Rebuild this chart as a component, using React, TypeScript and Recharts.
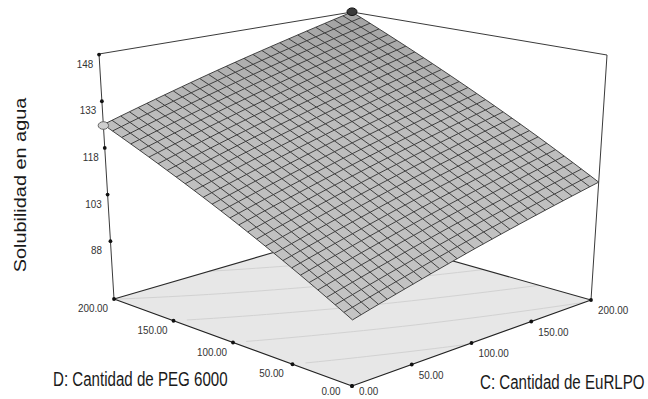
import React from 'react';
import { ScatterChart, Scatter, XAxis, YAxis } from 'recharts';

// ---------------- data ----------------
const cLevels = [0, 50, 100, 150, 200]; // C: Cantidad de EuRLPO
const dLevels = [0, 50, 100, 150, 200]; // D: Cantidad de PEG 6000
// predicted water solubility at each C level, one row per D level
const solubilityD0 = [88.0, 92.8, 97.7, 102.5, 107.3];
const solubilityD50 = [97.4, 102.4, 107.5, 112.5, 117.6];
const solubilityD100 = [106.8, 112.0, 117.3, 122.5, 127.8];
const solubilityD150 = [116.1, 121.6, 127.0, 132.5, 138.0];
const solubilityD200 = [125.5, 131.2, 136.9, 142.5, 148.2];
const zTicks = [88, 103, 118, 133, 148];
const cTicks = [0, 50, 100, 150, 200];
const dTicks = [0, 50, 100, 150, 200];
const zRange = [69.4, 148.2];
const contourLevels = [97.4, 106.8, 116.1, 125.4, 134.8, 144.1];
const designC = [0, 200];
const designD = [200, 200];
const designSolubility = [125.2, 148.3];
const zTitle = 'Solubilidad en agua';
const dTitle = 'D: Cantidad de PEG 6000';
const cTitle = 'C: Cantidad de EuRLPO';

// ---------------- layout ----------------
const W = 648;
const H = 399;
const FONT = '"Liberation Sans", Arial, Helvetica, sans-serif';
const MESH_PER_CELL = 7;

// screen anchors of the 3D box corners (perspective view), floor and ceiling
const BOX = {
  floor: { c0d0: [352, 386], c0d1: [114, 299], c1d0: [591, 300], c1d1: [347, 231] },
  top: { c0d0: [354, 106], c0d1: [99, 54], c1d0: [607, 55], c1d1: [352, 12] },
};

const grid = [solubilityD0, solubilityD50, solubilityD100, solubilityD150, solubilityD200];
const C_MIN = cLevels[0];
const C_MAX = cLevels[cLevels.length - 1];
const D_MIN = dLevels[0];
const D_MAX = dLevels[dLevels.length - 1];

type Pt = { x: number; y: number; [k: string]: any };

function project(c: number, d: number, z: number): Pt {
  const u = (c - C_MIN) / (C_MAX - C_MIN);
  const v = (d - D_MIN) / (D_MAX - D_MIN);
  const w = (z - zRange[0]) / (zRange[1] - zRange[0]);
  const bl = (q: any, k: number) =>
    q.c0d0[k] * (1 - u) * (1 - v) + q.c1d0[k] * u * (1 - v) + q.c0d1[k] * (1 - u) * v + q.c1d1[k] * u * v;
  const fx = bl(BOX.floor, 0);
  const fy = bl(BOX.floor, 1);
  const tx = bl(BOX.top, 0);
  const ty = bl(BOX.top, 1);
  return { x: fx + (tx - fx) * w, y: fy + (ty - fy) * w };
}

function cellIndex(levels: number[], val: number) {
  let i = 0;
  while (i < levels.length - 2 && val > levels[i + 1]) i++;
  return i;
}

// rendering of the fitted surface between the read grid nodes
function surfaceZ(c: number, d: number) {
  const i = cellIndex(cLevels, c);
  const j = cellIndex(dLevels, d);
  const a = (c - cLevels[i]) / (cLevels[i + 1] - cLevels[i]);
  const b = (d - dLevels[j]) / (dLevels[j + 1] - dLevels[j]);
  return (
    grid[j][i] * (1 - a) * (1 - b) +
    grid[j][i + 1] * a * (1 - b) +
    grid[j + 1][i] * (1 - a) * b +
    grid[j + 1][i + 1] * a * b
  );
}

// mesh parameter values
const meshC: number[] = [];
for (let i = 0; i < cLevels.length - 1; i++)
  for (let k = 0; k < MESH_PER_CELL; k++)
    meshC.push(cLevels[i] + ((cLevels[i + 1] - cLevels[i]) * k) / MESH_PER_CELL);
meshC.push(C_MAX);
const meshD: number[] = [];
for (let i = 0; i < dLevels.length - 1; i++)
  for (let k = 0; k < MESH_PER_CELL; k++)
    meshD.push(dLevels[i] + ((dLevels[i + 1] - dLevels[i]) * k) / MESH_PER_CELL);
meshD.push(D_MAX);

const sp = (c: number, d: number) => project(c, d, surfaceZ(c, d));

// surface lines
const linesAlongC: Pt[] = [];
meshD.forEach((d) => meshC.forEach((c) => linesAlongC.push(sp(c, d))));
const linesAlongD: Pt[] = [];
meshC.forEach((c) => meshD.forEach((d) => linesAlongD.push(sp(c, d))));

// surface outline
const surfaceOutline: Pt[] = [
  ...meshC.map((c) => sp(c, D_MIN)),
  ...meshD.map((d) => sp(C_MAX, d)),
  ...meshC.slice().reverse().map((c) => sp(c, D_MAX)),
  ...meshD.slice().reverse().map((d) => sp(C_MIN, d)),
];

// floor
const zLo = zRange[0];
const zHi = zRange[1];
const floorPts: Pt[] = [
  project(C_MIN, D_MIN, zLo),
  project(C_MAX, D_MIN, zLo),
  project(C_MAX, D_MAX, zLo),
  project(C_MIN, D_MAX, zLo),
];
const floorBackEdges: Pt[] = [
  project(C_MIN, D_MAX, zLo), project(C_MAX, D_MAX, zLo),
  project(C_MAX, D_MIN, zLo), project(C_MAX, D_MAX, zLo),
];
const floorFrontEdges: Pt[] = [
  project(C_MIN, D_MIN, zLo), project(C_MIN, D_MAX, zLo),
  project(C_MIN, D_MIN, zLo), project(C_MAX, D_MIN, zLo),
];
const boxEdges: Pt[] = [
  project(C_MIN, D_MAX, zLo), project(C_MIN, D_MAX, zHi),
  project(C_MAX, D_MIN, zLo), project(C_MAX, D_MIN, zHi),
  project(C_MIN, D_MAX, zHi), project(C_MAX, D_MAX, zHi),
  project(C_MAX, D_MAX, zHi), project(C_MAX, D_MIN, zHi),
];

// contour segments on the floor (marching squares over the mesh)
const contourSegs: Pt[] = [];
contourLevels.forEach((lvl) => {
  for (let j = 0; j < meshD.length - 1; j++) {
    for (let i = 0; i < meshC.length - 1; i++) {
      const corners = [
        [meshC[i], meshD[j]],
        [meshC[i + 1], meshD[j]],
        [meshC[i + 1], meshD[j + 1]],
        [meshC[i], meshD[j + 1]],
      ];
      const vals = corners.map(([c, d]) => surfaceZ(c, d));
      const hits: number[][] = [];
      for (let e = 0; e < 4; e++) {
        const a = vals[e];
        const b = vals[(e + 1) % 4];
        if ((a - lvl) * (b - lvl) < 0) {
          const t = (lvl - a) / (b - a);
          const p0 = corners[e];
          const p1 = corners[(e + 1) % 4];
          hits.push([p0[0] + (p1[0] - p0[0]) * t, p0[1] + (p1[1] - p0[1]) * t]);
        }
      }
      if (hits.length >= 2) {
        contourSegs.push(project(hits[0][0], hits[0][1], zLo));
        contourSegs.push(project(hits[1][0], hits[1][1], zLo));
      }
    }
  }
});

// ticks
const zTickPts = zTicks.map((t) => ({ ...project(C_MIN, D_MAX, t), label: String(t) }));
const dTickPts = dTicks.map((t) => ({ ...project(C_MIN, t, zLo), label: t.toFixed(2) }));
const cTickPts = cTicks.map((t) => ({ ...project(t, D_MIN, zLo), label: t.toFixed(2) }));
const designPts = designC.map((c, i) => ({
  ...project(c, designD[i], designSolubility[i]),
  above: designSolubility[i] >= surfaceZ(c, designD[i]),
}));

const titlePts = [
  { x: 26, y: 185, label: zTitle, kind: 'z' },
  { x: 53, y: 386, label: dTitle, kind: 'd' },
  { x: 480, y: 389, label: cTitle, kind: 'c' },
];

// ---------------- renderers ----------------
const noShape = () => <g />;

const segPath = (pts: Pt[]) => {
  let s = '';
  for (let i = 0; i + 1 < pts.length; i += 2)
    s += `M${pts[i].x.toFixed(2)},${pts[i].y.toFixed(2)}L${pts[i + 1].x.toFixed(2)},${pts[i + 1].y.toFixed(2)}`;
  return s;
};
const polyPath = (pts: Pt[], n: number) => {
  let s = '';
  for (let i = 0; i < pts.length; i += n) {
    const chunk = pts.slice(i, i + n);
    chunk.forEach((p, k) => {
      s += `${k === 0 ? 'M' : 'L'}${p.x.toFixed(2)},${p.y.toFixed(2)}`;
    });
  }
  return s;
};
const polygonPoints = (pts: Pt[]) => pts.map((p) => `${p.x.toFixed(2)},${p.y.toFixed(2)}`).join(' ');

const segLine = (stroke: string, width: number, opacity = 1) => (p: any) =>
  <path d={segPath(p.points || [])} stroke={stroke} strokeWidth={width} strokeOpacity={opacity} fill="none" />;

const TickDot = (p: any) => <circle cx={p.cx} cy={p.cy} r={1.9} fill="#111" />;

const tickText = (dx: number, dy: number, anchor: 'start' | 'middle' | 'end') => (p: any) => (
  <g transform={`translate(${p.cx + dx},${Math.min(p.cy + dy, H - 4)}) scale(0.86,1)`}>
    <text x={0} y={0} textAnchor={anchor} fontFamily={FONT} fontSize={11.5} fill="#333">
      {p.payload.label}
    </text>
  </g>
);

const TitleShape = (p: any) => {
  const k = p.payload.kind;
  if (k === 'z') {
    return (
      <g transform={`translate(${p.cx},${p.cy}) rotate(-90) scale(1.17,1)`}>
        <text x={0} y={0} textAnchor="middle" fontFamily={FONT} fontSize={17} fill="#1a1a1a">
          {p.payload.label}
        </text>
      </g>
    );
  }
  return (
    <g transform={`translate(${p.cx},${p.cy}) scale(0.72,1)`}>
      <text x={0} y={0} textAnchor="start" fontFamily={FONT} fontSize={21} fill="#1a1a1a">
        {p.payload.label}
      </text>
    </g>
  );
};

const DesignShape = (p: any) =>
  p.payload.above ? (
    <ellipse cx={p.cx} cy={p.cy} rx={5} ry={3.8} fill="#3a3a3a" stroke="#111" strokeWidth={1} />
  ) : (
    <ellipse cx={p.cx} cy={p.cy} rx={5.2} ry={3.8} fill="#cfcfcf" stroke="#666" strokeWidth={1} />
  );

export default function App() {
  const n = meshC.length;
  const m = meshD.length;
  return (
    <div style={{ position: 'absolute', left: 0, top: 0, width: W, height: H, background: '#fff' }}>
      <ScatterChart width={W} height={H} margin={{ top: 0, right: 0, bottom: 0, left: 0 }}>
        <XAxis type="number" dataKey="x" domain={[0, W]} allowDataOverflow hide />
        <YAxis type="number" dataKey="y" domain={[0, H]} reversed allowDataOverflow hide />

        {/* floor */}
        <Scatter
          data={floorPts}
          shape={noShape}
          isAnimationActive={false}
          line={(p: any) => <polygon points={polygonPoints(p.points || [])} fill="#e7e7e7" stroke="none" />}
        />
        <Scatter data={contourSegs} shape={noShape} isAnimationActive={false} line={segLine('#d2d2d2', 1)} />
        <Scatter data={floorBackEdges} shape={noShape} isAnimationActive={false} line={segLine('#2a2a2a', 1.1)} />
        <Scatter data={boxEdges} shape={noShape} isAnimationActive={false} line={segLine('#3a3a3a', 1)} />

        {/* surface */}
        <Scatter
          data={surfaceOutline}
          shape={noShape}
          isAnimationActive={false}
          line={(p: any) => (
            <g>
              <defs>
                <linearGradient id="surfShade" x1="0" y1="0" x2="0" y2="1">
                  <stop offset="0" stopColor="#a2a2a2" />
                  <stop offset="0.35" stopColor="#bdbdbd" />
                  <stop offset="1" stopColor="#c4c4c4" />
                </linearGradient>
              </defs>
              <polygon points={polygonPoints(p.points || [])} fill="url(#surfShade)" stroke="none" />
            </g>
          )}
        />
        <Scatter
          data={linesAlongC}
          shape={noShape}
          isAnimationActive={false}
          line={(p: any) => (
            <path d={polyPath(p.points || [], n)} stroke="#333" strokeWidth={1} fill="none" strokeOpacity={0.9} />
          )}
        />
        <Scatter
          data={linesAlongD}
          shape={noShape}
          isAnimationActive={false}
          line={(p: any) => (
            <path d={polyPath(p.points || [], m)} stroke="#333" strokeWidth={1} fill="none" strokeOpacity={0.9} />
          )}
        />

        {/* front axes */}
        <Scatter data={floorFrontEdges} shape={noShape} isAnimationActive={false} line={segLine('#222', 1.2)} />

        {/* ticks */}
        <Scatter data={zTickPts} shape={TickDot} isAnimationActive={false} />
        <Scatter data={dTickPts} shape={TickDot} isAnimationActive={false} />
        <Scatter data={cTickPts} shape={TickDot} isAnimationActive={false} />
        <Scatter data={zTickPts} shape={tickText(-14, 13, 'middle')} isAnimationActive={false} />
        <Scatter data={dTickPts} shape={tickText(-21, 13, 'middle')} isAnimationActive={false} />
        <Scatter data={cTickPts} shape={tickText(7, 14, 'start')} isAnimationActive={false} />

        {/* design points */}
        <Scatter data={designPts} shape={DesignShape} isAnimationActive={false} />

        {/* titles */}
        <Scatter data={titlePts} shape={TitleShape} isAnimationActive={false} />
      </ScatterChart>
    </div>
  );
}
